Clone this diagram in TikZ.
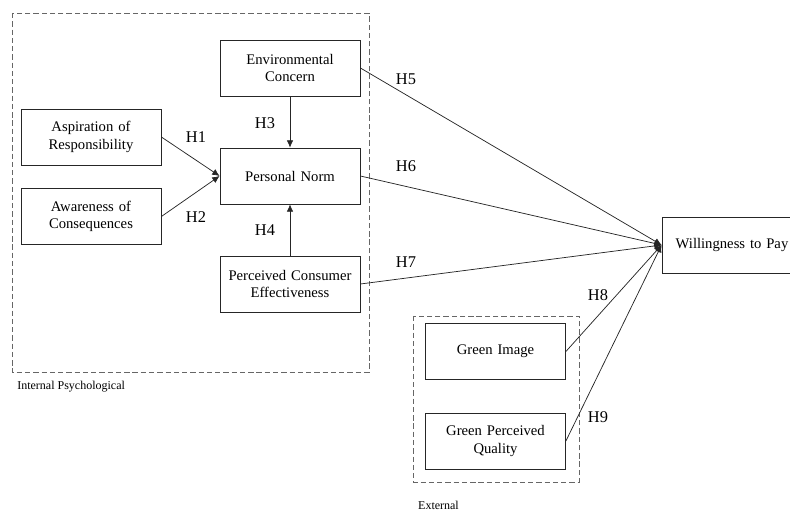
\documentclass[tikz,border=0pt]{standalone}
\usepackage{fontspec}
\setmainfont{Liberation Serif}
\usepackage{tikz}
\usetikzlibrary{arrows.meta,positioning}

\begin{document}
\begin{tikzpicture}[
    x=0.75pt, y=-0.75pt,
    >={Latex[length=5.5pt,width=5pt]},
    box/.style={rectangle, draw=black!85, line width=0.6pt, text width=100pt, align=center, minimum width=105pt, minimum height=42pt, inner sep=0pt, font=\fontsize{11}{13}\selectfont},
    group/.style={draw=black!60, line width=0.7pt, dash pattern=on 4pt off 2.2pt},
    hyp/.style={font=\fontsize{12.3}{14}\selectfont},
    grouplabel/.style={font=\fontsize{9}{10}\selectfont, inner sep=0pt},
    link/.style={->, line width=0.55pt, draw=black!85}
]
    \useasboundingbox (0,0) rectangle (790,513);

    % Internal Psychological
    \draw[group] (12,13) rectangle (369,372);
    \node[grouplabel, anchor=west] (internal) at (17,387) {Internal Psychological};
    \node[box] (env) at (290,68) {Environmental\\Concern};
    \node[box] (norm) at (290,176) {Personal Norm};
    \node[box] (aspiration) at (91,137) {Aspiration of\\Responsibility};
    \node[box] (awareness) at (91,216.5) {Awareness of\\Consequences};
    \node[box] (pce) at (290,284) {Perceived Consumer\\Effectiveness};

    % External
    \draw[group] (413,316) rectangle (579,482);
    \node[grouplabel] (external) at (438.5,505) {External};
    \node[box] (image) at (495.5,351.5) {Green Image};
    \node[box] (quality) at (495.5,441) {Green Perceived\\Quality};

    % Outcome
    \node[box] (wtp) at (732,245) {Willingness to Pay};

    % Connections
    \draw[link] (aspiration.east) -- (norm.west);
    \draw[link] (awareness.east) -- (norm.west);
    \draw[link] (env) -- (norm);
    \draw[link] (pce) -- (norm);
    \draw[link] (env.east) -- (wtp.west);
    \draw[link] (norm.east) -- (wtp.west);
    \draw[link] (pce.east) -- (wtp.west);
    \draw[link] (image.east) -- (wtp.west);
    \draw[link] (quality.east) -- (wtp.west);

    % Hypotheses
    \node[hyp] (h1) at (196,137) {H1};
    \node[hyp] (h2) at (196,217) {H2};
    \node[hyp] (h3) at (265,123) {H3};
    \node[hyp] (h4) at (265,230) {H4};
    \node[hyp] (h5) at (406,79) {H5};
    \node[hyp] (h6) at (406,166) {H6};
    \node[hyp] (h7) at (406,262) {H7};
    \node[hyp] (h8) at (598,295) {H8};
    \node[hyp] (h9) at (598,417) {H9};
\end{tikzpicture}
\end{document}
